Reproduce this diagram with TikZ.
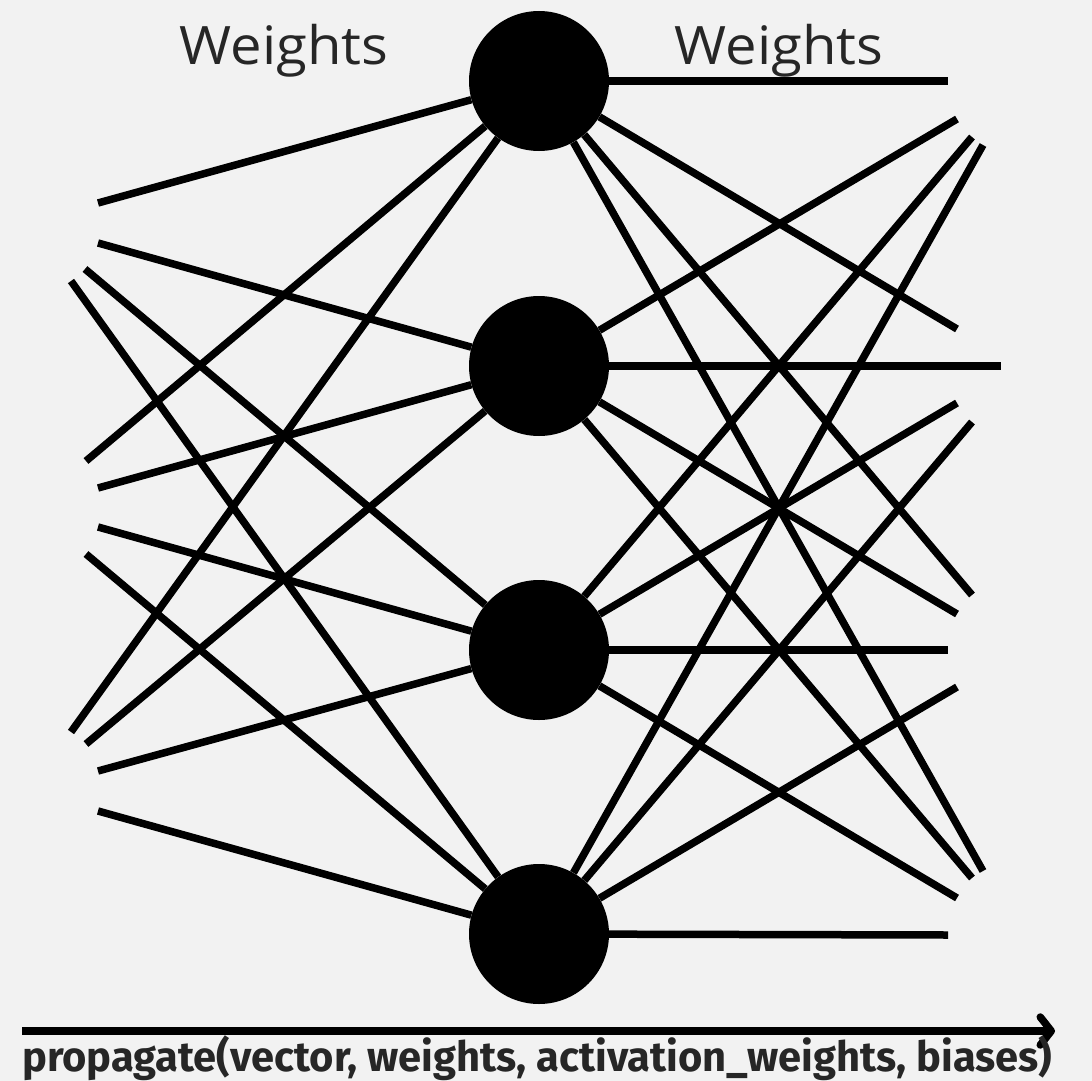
\documentclass[tikz,border=0pt]{standalone}
\usepackage{fontspec}
\setmainfont{Open Sans}
\newfontfamily\fnfont{Fira Sans}
\usetikzlibrary{arrows.meta}
\definecolor{bg}{RGB}{242,242,242}
\definecolor{txt}{RGB}{38,38,38}
\begin{document}
\begin{tikzpicture}[x=1pt,y=-1pt,
  neuron/.style={circle,fill=black,minimum size=140pt,inner sep=0pt},
  wire/.style={line width=7.5pt,line cap=butt},
  lbl/.style={text=txt,inner sep=0pt,font=\fontsize{53}{60}\selectfont},
  fn/.style={text=txt,inner sep=0pt,anchor=base west,font=\fnfont\bfseries\fontsize{40}{46}\selectfont}]
\fill[bg] (0,0) rectangle (1092,1081);
\useasboundingbox (0,0) rectangle (1092,1081);
% neurons
\node[neuron] (n1) at (539,81) {};
\node[neuron] (n2) at (539,366) {};
\node[neuron] (n3) at (539,650) {};
\node[neuron] (n4) at (539,934) {};
% left free ends
\coordinate (a1) at (98,203);
\coordinate (a2) at (98,243);
\coordinate (a3) at (85,269);
\coordinate (a4) at (71,281);
\coordinate (a5) at (86,461);
\coordinate (a6) at (98,488);
\coordinate (a7) at (98,527);
\coordinate (a8) at (86,554);
\coordinate (a9) at (71,732);
\coordinate (a10) at (86,744);
\coordinate (a11) at (98,771);
\coordinate (a12) at (98,811);
% right free ends
\coordinate (b11) at (948,81);
\coordinate (b12) at (957,329);
\coordinate (b13) at (972,595);
\coordinate (b14) at (983,871);
\coordinate (b21) at (957,119);
\coordinate (b22) at (1001,366);
\coordinate (b23) at (957,614);
\coordinate (b24) at (972,878);
\coordinate (b31) at (972,137);
\coordinate (b32) at (957,403);
\coordinate (b33) at (948,650);
\coordinate (b34) at (957,898);
\coordinate (b41) at (983,145);
\coordinate (b42) at (972,422);
\coordinate (b43) at (957,687);
\coordinate (b44) at (948,935);
% left weights
\draw[wire] (a1) -- (n1);
\draw[wire] (a2) -- (n2);
\draw[wire] (a3) -- (n3);
\draw[wire] (a4) -- (n4);
\draw[wire] (a5) -- (n1);
\draw[wire] (a6) -- (n2);
\draw[wire] (a7) -- (n3);
\draw[wire] (a8) -- (n4);
\draw[wire] (a9) -- (n1);
\draw[wire] (a10) -- (n2);
\draw[wire] (a11) -- (n3);
\draw[wire] (a12) -- (n4);
% right weights
\draw[wire] (n1) -- (b11);
\draw[wire] (n1) -- (b12);
\draw[wire] (n1) -- (b13);
\draw[wire] (n1) -- (b14);
\draw[wire] (n2) -- (b21);
\draw[wire] (n2) -- (b22);
\draw[wire] (n2) -- (b23);
\draw[wire] (n2) -- (b24);
\draw[wire] (n3) -- (b31);
\draw[wire] (n3) -- (b32);
\draw[wire] (n3) -- (b33);
\draw[wire] (n3) -- (b34);
\draw[wire] (n4) -- (b41);
\draw[wire] (n4) -- (b42);
\draw[wire] (n4) -- (b43);
\draw[wire] (n4) -- (b44);
% labels
\node[lbl,anchor=base] (w1) at (284,64) {\scalebox{1.06}[1]{Weights}};
\node[lbl,anchor=base] (w2) at (779,64) {\scalebox{1.06}[1]{Weights}};
% propagation arrow
\coordinate (p0) at (22,1031);
\coordinate (p1) at (1055,1031);
\draw[line width=7.5pt,-{Straight Barb[length=11pt,width=28pt,line cap=round,line join=round]}] (p0) -- (p1);
\node[fn] (fnlabel) at (22,1071) {\resizebox{1030pt}{!}{propagate(vector, weights, activation\_weights, biases)}};
\end{tikzpicture}
\end{document}
